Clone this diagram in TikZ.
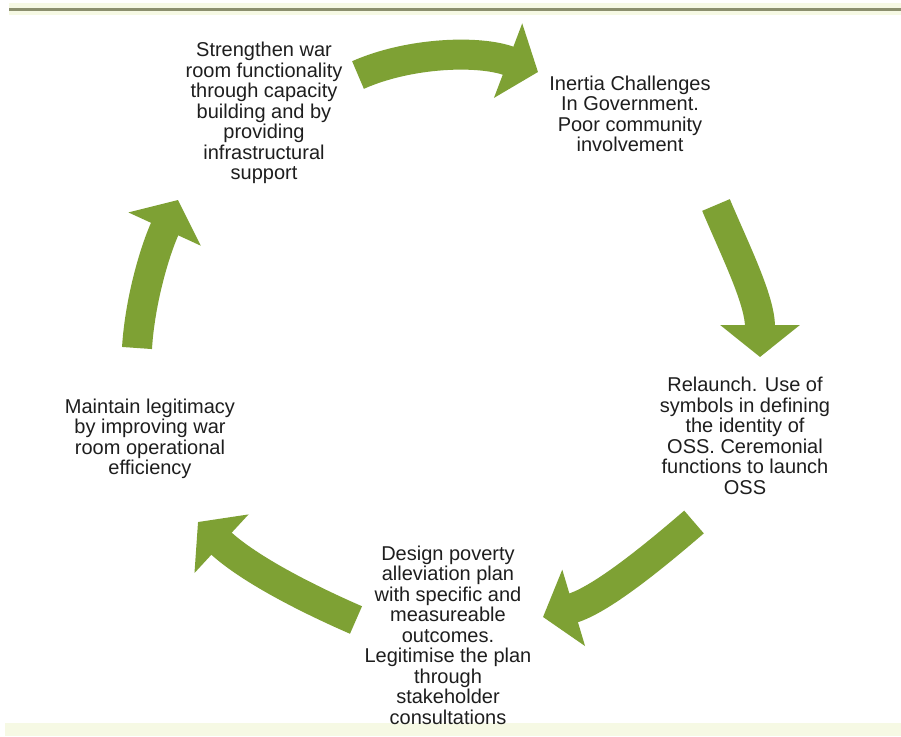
\documentclass[tikz,border=0pt]{standalone}
\usepackage{fontspec}
\setmainfont{Liberation Sans}
\usetikzlibrary{arrows.meta}
\definecolor{arrowgreen}{RGB}{126,161,52}
\definecolor{topline}{RGB}{139,143,110}
\definecolor{paleband}{RGB}{246,249,228}
\definecolor{txt}{RGB}{30,30,30}
\begin{document}
\begin{tikzpicture}[x=1pt,y=-1pt,
  cyc/.style={line width=30pt, draw=arrowgreen, -{Triangle[width=78pt,length=32pt]}},
  lbl/.style={font=\fontsize{20}{20.5}\selectfont, text=txt, align=center, inner sep=0pt}]
\useasboundingbox (0,0) rectangle (901,736);
\fill[white] (0,0) rectangle (901,736);
% top and bottom rules
\fill[paleband] (9,3) rectangle (901,15);
\draw[topline, line width=3pt] (9,9) -- (901,9);
\fill[paleband] (5,723) rectangle (901,736);
% text blocks
\node[lbl] (s1) at (264,113) {Strengthen war\\room functionality\\through capacity\\building and by\\providing\\infrastructural\\support};
\node[lbl] (s2) at (630,114) {Inertia Challenges\\In Government.\\Poor community\\involvement};
\node[lbl] (s3) at (745,436) {Relaunch. Use of\\symbols in defining\\the identity of\\OSS. Ceremonial\\functions to launch\\OSS};
\node[lbl] (s4) at (448,635) {Design poverty\\alleviation plan\\with specific and\\measureable\\outcomes.\\Legitimise the plan\\through\\stakeholder\\consultations};
\node[lbl] (s5) at (150,439) {Maintain legitimacy\\by improving war\\room operational\\efficiency};
% arrow ends
\coordinate (a1s) at (358,75);  \coordinate (a1e) at (538,72);
\coordinate (a2s) at (716,205); \coordinate (a2e) at (760,357);
\coordinate (a3s) at (694,522); \coordinate (a3e) at (543,617);
\coordinate (a4s) at (356,620); \coordinate (a4e) at (198,522);
\coordinate (a5s) at (137,348); \coordinate (a5e) at (178,200);
% cycle arrows
\draw[cyc] (a1s) .. controls (410,52) and (480,50) .. (a1e);
\draw[cyc] (a2s) .. controls (735,250) and (760,300) .. (a2e);
\draw[cyc] (a3s) .. controls (650,560) and (600,600) .. (a3e);
\draw[cyc] (a4s) .. controls (310,600) and (250,570) .. (a4e);
\draw[cyc] (a5s) .. controls (140,300) and (155,250) .. (a5e);
\end{tikzpicture}
\end{document}
